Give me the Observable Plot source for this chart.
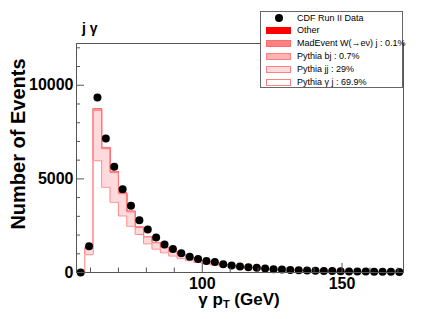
<!DOCTYPE html>
<html><head><meta charset="utf-8">
<script src="https://cdn.jsdelivr.net/npm/d3@7"></script>
<script src="https://cdn.jsdelivr.net/npm/@observablehq/plot@0.6"></script>
<style>
html,body{margin:0;padding:0;background:#fff;}
#wrap{position:relative;width:424px;height:319px;overflow:hidden;font-family:"Liberation Sans",Arial,Helvetica,sans-serif;color:#000;}
#wrap svg{position:absolute;left:0;top:0;}
.title{position:absolute;left:82px;top:20px;font-size:14px;font-weight:bold;white-space:nowrap;}
.ylab{position:absolute;left:18px;top:144px;transform:translate(-50%,-50%) rotate(-90deg);font-size:20px;font-weight:bold;white-space:nowrap;}
.xlab{position:absolute;left:239px;top:300px;transform:translate(-50%,-50%);font-size:17px;font-weight:bold;white-space:nowrap;}
.xlab sub{font-size:11px;vertical-align:-3px;}
.legend{position:absolute;left:260px;top:11px;width:143px;height:77px;border:1px solid #666;background:#fff;box-sizing:border-box;}
.row{position:absolute;left:0;width:140px;height:12px;}
.sw{position:absolute;left:5px;top:2px;width:25px;height:7px;box-sizing:border-box;}
.mk{position:absolute;left:14px;top:1px;width:8px;height:8px;border-radius:50%;background:#000;}
.lt{position:absolute;left:36px;top:-1px;font-size:9px;white-space:nowrap;line-height:12px;}
</style>
</head><body>
<div id="wrap"></div>
<script>
// bin edges (GeV), 3 GeV bins
const binEdges = [55,58,61,64,67,70,73,76,79,82,85,88,91,94,97,100,103,106,109,112,115,118,121,124,127,130,133,136,139,142,145,148,151,154,157,160,163,166,169,172];
// CDF Run II data (events per bin)
const dataCounts = [0,1400,9350,7160,5650,4440,3570,2790,2290,1870,1490,1260,1030,840,720,610,560,440,380,320,280,250,210,180,160,140,120,110,95,85,75,68,60,55,50,45,40,36,32];
// MC components (stacked: gammaJ at bottom)
const gammaJ = [0,950,5970,4550,3750,3020,2470,2030,1530,1250,1050,880,740,630,530,460,400,340,290,250,215,190,160,140,120,105,92,80,72,64,56,50,44,40,36,32,29,26,23];
const jj     = [0,335,2691,2061,1585,1186,766,365,370,334,267,228,190,151,122,103,94,75,65,56,51,42,37,32,27,22,20,17,15,13,11,9,8,8,7,6,5,4,4];
const bj     = [0,10,60,47,38,30,23,17,13,11,9,8,7,6,5,4,4,3,3,2,2,2,2,2,2,2,2,2,2,1,1,1,1,1,1,1,1,1,1];
const wj     = [0,2,9,7,5,4,3,2,2,1,1,1,1,1,1,1,1,1,1,1,1,1,0,0,0,0,0,0,0,0,0,0,0,0,0,0,0,0,0];
const other  = [0,3,20,15,12,10,8,6,5,4,3,3,2,2,2,2,1,1,1,1,1,1,1,1,1,1,1,0,0,0,0,0,0,0,0,0,0,0,0];

const yMajor = [0,5000,10000];
const yMinor = [1000,2000,3000,4000,6000,7000,8000,9000,11000,12000];
const xMajor = [100,150];
const xMinor = [60,70,80,90,110,120,130,140,160,170];

const legendLabels = ["CDF Run II Data","Other","MadEvent W(\u2192e\u03bd) j : 0.1%","Pythia bj : 0.7%","Pythia jj : 29%","Pythia \u03b3 j : 69.9%"];
const legendFills = [null,"#ff0000","#ff8080","#ffb3b3","#ffdadc","#ffffff"];
const legendStrokes = [null,"#ff0000","#ff6a6a","#ff8080","#ff8080","#ff8080"];

// layers bottom -> top
const layers = [
  {vals: gammaJ, fill: "#ffffff", stroke: "#ff8c8c"},
  {vals: jj, fill: "#ffdadc", stroke: "#ff7a7a"},
  {vals: bj, fill: "#ffb3b3", stroke: "#ff7070"},
  {vals: wj, fill: "#ff8080", stroke: "#ff5a5a"},
  {vals: other, fill: "#ff0000", stroke: "#ff2a2a"}
];
let cum = gammaJ.map(() => 0);
const tops = layers.map(L => { cum = cum.map((c,i) => c + L.vals[i]); return cum.slice(); });

function stepRows(v){
  return binEdges.map((e,i) => ({x: e, y: i < v.length ? v[i] : v[v.length-1]}));
}

const histMarks = [];
for (let li = layers.length - 1; li >= 0; li--) {
  const rows = stepRows(tops[li]);
  histMarks.push(Plot.areaY(rows, {x: "x", y: "y", curve: "step-after", fill: layers[li].fill}));
  histMarks.push(Plot.lineY(rows, {x: "x", y: "y", curve: "step-after", stroke: layers[li].stroke, strokeWidth: 1}));
}

const dataRows = dataCounts.map((c,i) => ({x: (binEdges[i] + binEdges[i+1]) / 2, y: c}));

const innerW = 424 - 76 - 21;
const innerH = 319 - 43 - 47;

const chart = Plot.plot({
  width: 424, height: 319,
  marginLeft: 76, marginRight: 21, marginTop: 43, marginBottom: 47,
  x: {domain: [55, 172]},
  y: {domain: [0, 12230]},
  style: {fontFamily: "'Liberation Sans', Arial, Helvetica, sans-serif", background: "transparent", color: "#000"},
  marks: [
    ...histMarks,
    Plot.dot(dataRows, {x: "x", y: "y", r: 4, fill: "#000", stroke: "none"}),
    Plot.ruleY(yMinor, {insetRight: innerW - 4, stroke: "#555"}),
    Plot.ruleY(yMajor, {insetRight: innerW - 8, stroke: "#555"}),
    Plot.ruleX(xMinor, {insetTop: innerH - 4.5, stroke: "#555"}),
    Plot.ruleX(xMajor, {insetTop: innerH - 9, stroke: "#555"}),
    Plot.axisY({ticks: yMajor, tickFormat: d => String(d), tickSize: 0, tickPadding: 3, fontSize: 16, fontWeight: "bold", label: null}),
    Plot.axisX({ticks: xMajor, tickFormat: d => String(d), tickSize: 0, tickPadding: 5, fontSize: 16, fontWeight: "bold", label: null}),
    Plot.frame({stroke: "#555"})
  ]
});

const wrap = document.getElementById("wrap");
wrap.appendChild(chart);

const t = document.createElement("div"); t.className = "title"; t.textContent = "j \u03b3"; wrap.appendChild(t);
const yl = document.createElement("div"); yl.className = "ylab"; yl.textContent = "Number of Events"; wrap.appendChild(yl);
const xl = document.createElement("div"); xl.className = "xlab"; xl.innerHTML = "\u03b3 p<sub>T</sub> (GeV)"; wrap.appendChild(xl);

const lg = document.createElement("div"); lg.className = "legend"; wrap.appendChild(lg);
legendLabels.forEach((lab, i) => {
  const r = document.createElement("div"); r.className = "row"; r.style.top = (0.5 + 12.9 * i) + "px";
  if (legendFills[i] === null) {
    const m = document.createElement("div"); m.className = "mk"; r.appendChild(m);
  } else {
    const s = document.createElement("div"); s.className = "sw";
    s.style.background = legendFills[i]; s.style.border = "1px solid " + legendStrokes[i];
    r.appendChild(s);
  }
  const tx = document.createElement("div"); tx.className = "lt"; tx.textContent = lab; r.appendChild(tx);
  lg.appendChild(r);
});
</script>
</body></html>
